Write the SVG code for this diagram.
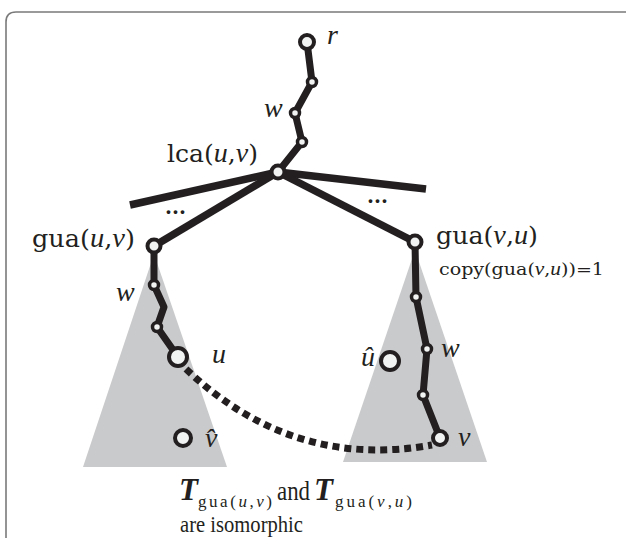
<svg xmlns="http://www.w3.org/2000/svg" width="626" height="538" viewBox="0 0 626 538">
  <style>
    .frame { fill: none; stroke: #7a7a7a; stroke-width: 1.6; }
    .edge { fill: none; stroke: #231f20; stroke-width: 7.5; stroke-linejoin: round; }
    .chain { fill: none; stroke: #231f20; stroke-width: 7; stroke-linejoin: round; }
    .dashed { fill: none; stroke: #231f20; stroke-width: 7; stroke-dasharray: 7 5; }
    .sub { fill: #c9cacb; }
    .node { fill: #f1f2f2; stroke: #231f20; stroke-width: 4; }
    .small { fill: #f1f2f2; stroke: #231f20; stroke-width: 3.5; }
    text { font-family: "DejaVu Serif", "Liberation Serif", serif; fill: #231f20; }
    .lbl { font-size: 25px; }
    .it { font-family: "Liberation Serif", serif; font-style: italic; font-size: 1.12em; }
    .var { font-family: "Liberation Serif", serif; font-style: italic; font-size: 28px; }
    .cap { font-family: "Liberation Serif", serif; font-size: 27px; }
    .cap2 { font-family: "Liberation Serif", serif; font-size: 23px; }
    .bigT { font-family: "Liberation Serif", serif; font-style: italic; font-weight: bold; font-size: 31px; }
    .sm { font-size: 16px; }
    .idx { font-family: "Liberation Serif", serif; font-size: 17px; }
    .idx .it { font-size: 1em; }
    .dots { font-size: 20px; font-weight: bold; }
  </style>

  <!-- outer frame -->
  <path class="frame" d="M6,538 V22 Q6,12 16,12 H626"/>

  <!-- subtrees -->
  <g id="subtree-u">
    <polygon class="sub" points="154,254 83,467 227,467"/>
  </g>
  <g id="subtree-v">
    <polygon class="sub" points="415,250 343,462 487,462"/>
  </g>

  <!-- connectors -->
  <g id="connectors">
    <polyline class="chain" points="307,42 312,82 295,113 302,142 278,172"/>
    <line class="edge" x1="278" y1="172" x2="130" y2="205"/>
    <line class="edge" x1="278" y1="172" x2="154" y2="246"/>
    <line class="edge" x1="278" y1="172" x2="426" y2="189"/>
    <line class="edge" x1="278" y1="172" x2="415" y2="242"/>
    <polyline class="chain" points="154,246 154,285 164,307 157,327 178,357"/>
    <polyline class="chain" points="415,242 416,297 427,349 423,395 440,438"/>
    <path class="dashed" d="M186,369 Q292,470 432,445"/>
    <text class="dots" x="165" y="214">...</text>
    <text class="dots" x="367" y="203">...</text>
  </g>

  <!-- nodes -->
  <g id="node-r">
    <circle class="node" cx="307" cy="42" r="7"/>
    <text class="var" x="327" y="44">r</text>
  </g>
  <g id="node-a1"><circle class="small" cx="312" cy="82" r="4.5"/></g>
  <g id="node-w-top">
    <circle class="small" cx="295" cy="113" r="4.5"/>
    <text class="var" x="264" y="117">w</text>
  </g>
  <g id="node-a2"><circle class="small" cx="302" cy="142" r="4.5"/></g>
  <g id="node-lca">
    <circle class="node" cx="278" cy="172" r="6.5"/>
    <text class="lbl" x="167" y="162" textLength="91" lengthAdjust="spacingAndGlyphs">lca(<tspan class="it">u</tspan>,<tspan class="it">v</tspan>)</text>
  </g>
  <g id="node-gua-uv">
    <circle class="node" cx="154" cy="246" r="6.5"/>
    <text class="lbl" x="32" y="247" textLength="103" lengthAdjust="spacingAndGlyphs">gua(<tspan class="it">u</tspan>,<tspan class="it">v</tspan>)</text>
  </g>
  <g id="node-gua-vu">
    <circle class="node" cx="415" cy="242" r="6.5"/>
    <text class="lbl" x="436" y="244" textLength="102" lengthAdjust="spacingAndGlyphs">gua(<tspan class="it">v</tspan>,<tspan class="it">u</tspan>)</text>
    <text class="sm" x="439" y="275" textLength="165" lengthAdjust="spacingAndGlyphs">copy(gua(<tspan class="it">v</tspan>,<tspan class="it">u</tspan>))=1</text>
  </g>
  <g id="node-b1"><circle class="small" cx="154" cy="285" r="4.5"/></g>
  <g id="node-w-left">
    <circle class="small" cx="157" cy="327" r="4.5"/>
    <text class="var" x="116" y="301">w</text>
  </g>
  <g id="node-u">
    <circle class="node" cx="178" cy="357" r="9"/>
    <text class="var" x="212" y="363">u</text>
  </g>
  <g id="node-vhat">
    <circle class="node" cx="183" cy="438" r="8"/>
    <text class="var" x="205" y="447">v̂</text>
  </g>
  <g id="node-c1"><circle class="small" cx="416" cy="297" r="4.5"/></g>
  <g id="node-w-right">
    <circle class="small" cx="427" cy="349" r="4.5"/>
    <text class="var" x="441" y="357">w</text>
  </g>
  <g id="node-c2"><circle class="small" cx="423" cy="395" r="4.5"/></g>
  <g id="node-v">
    <circle class="node" cx="440" cy="438" r="7"/>
    <text class="var" x="458" y="446">v</text>
  </g>
  <g id="node-uhat">
    <circle class="node" cx="390" cy="361" r="9"/>
    <text class="var" x="361" y="366">û</text>
  </g>

  <!-- caption -->
  <g id="caption">
    <text class="bigT" x="179" y="500">T</text>
    <text class="idx" x="198" y="507" textLength="74" lengthAdjust="spacing">gua(<tspan class="it">u</tspan>,<tspan class="it">v</tspan>)</text>
    <text class="cap" x="277" y="500" textLength="33" lengthAdjust="spacingAndGlyphs">and</text>
    <text class="bigT" x="314" y="500">T</text>
    <text class="idx" x="335" y="507" textLength="77" lengthAdjust="spacing">gua(<tspan class="it">v</tspan>,<tspan class="it">u</tspan>)</text>
    <text class="cap2" x="180" y="532" textLength="123" lengthAdjust="spacingAndGlyphs">are isomorphic</text>
  </g>
</svg>
